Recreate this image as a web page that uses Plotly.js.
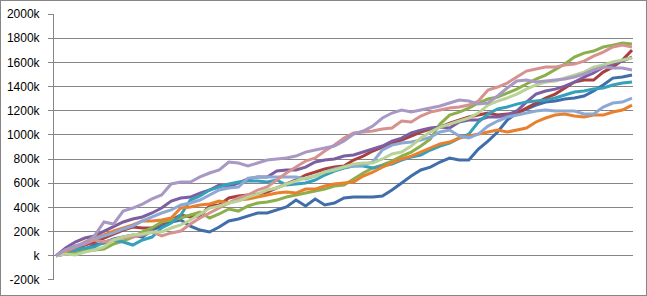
<!DOCTYPE html>
<html>
<head>
<meta charset="utf-8">
<script src="https://cdn.plot.ly/plotly-3.0.1.min.js"></script>
<style>
  html, body { margin: 0; padding: 0; background: #fff; }
  #chart { width: 645px; height: 294px; border: 1px solid #868686; }
</style>
</head>
<body>
<div id="chart"></div>
<script>
// values in thousands, one value per step (61 steps)
const steps = Array.from({length: 61}, (_, i) => i);

const series1 = [0,15,31,56,89,106,139,155,172,155,213,246,280,296,246,213,197,238,288,304,329,354,354,379,404,461,412,470,420,437,478,486,486,486,495,544,602,660,710,734,776,809,792,792,883,949,1024,1123,1181,1214,1247,1272,1280,1297,1305,1322,1363,1413,1470,1479,1495];
const series2 = [0,31,56,89,114,147,180,213,238,230,230,271,296,337,321,329,412,420,478,495,503,511,528,561,594,627,668,693,718,734,743,792,825,867,900,933,958,991,1024,1049,1065,1098,1123,1148,1164,1181,1164,1173,1181,1222,1264,1305,1338,1388,1437,1454,1454,1520,1561,1619,1702];
const series3 = [0,15,23,40,48,56,98,122,155,197,230,280,296,313,337,362,313,346,387,370,412,437,445,461,486,503,519,536,552,577,586,635,685,726,751,784,825,858,908,966,1090,1164,1189,1222,1264,1297,1313,1346,1379,1421,1462,1495,1537,1586,1644,1677,1694,1727,1743,1760,1752];
const series4 = [0,65,114,147,164,205,246,280,304,321,354,395,453,478,486,519,544,586,569,602,635,652,652,701,710,710,734,776,792,801,825,834,858,883,908,949,974,1016,1040,1057,1065,1057,1107,1123,1123,1148,1148,1164,1198,1272,1338,1363,1379,1404,1437,1479,1512,1561,1586,1611,1644];
const series5 = [0,31,48,65,73,114,131,114,89,131,155,230,271,337,461,495,544,569,594,610,619,619,610,627,586,594,602,627,668,701,726,743,743,726,743,759,792,817,834,875,908,933,974,1007,1107,1173,1214,1231,1255,1272,1280,1288,1305,1330,1355,1363,1379,1388,1413,1429,1437];
const series6 = [0,31,73,114,147,172,205,230,255,288,288,296,313,395,404,420,428,453,437,461,470,486,503,519,528,519,552,552,577,594,602,610,660,693,734,767,801,825,858,891,925,941,974,991,1007,1024,1040,1024,1040,1057,1107,1140,1164,1173,1156,1148,1164,1164,1189,1206,1247];
const series7 = [0,48,81,106,139,164,189,222,246,288,321,354,379,420,437,461,503,544,561,569,643,652,652,652,652,652,635,660,693,718,734,743,751,776,875,916,933,941,958,982,1024,1040,991,974,1007,1073,1115,1148,1164,1181,1198,1206,1198,1198,1198,1173,1173,1231,1264,1272,1305];
const series8 = [0,48,73,98,131,114,131,147,155,172,197,164,189,205,263,313,354,395,437,478,503,544,569,627,685,734,784,809,867,916,974,1016,1024,1032,1049,1057,1115,1107,1156,1189,1206,1222,1231,1247,1280,1371,1396,1429,1479,1528,1545,1561,1561,1578,1586,1611,1652,1685,1727,1743,1727];
const series9 = [0,15,7,31,48,73,131,155,172,180,197,197,230,255,296,346,395,412,437,453,486,511,544,561,594,619,643,660,693,710,734,759,767,767,801,842,858,908,974,1024,1065,1090,1115,1140,1181,1247,1280,1305,1338,1379,1413,1437,1446,1470,1495,1520,1561,1578,1603,1619,1636];
const series10 = [0,48,81,98,164,280,263,370,395,428,470,503,594,610,610,652,685,710,776,767,743,767,792,801,809,825,858,875,891,908,949,1007,1032,1073,1140,1181,1206,1189,1206,1222,1239,1264,1288,1280,1255,1264,1322,1388,1446,1454,1437,1446,1454,1462,1479,1504,1537,1561,1553,1553,1537];

const tickVals = [-200,0,200,400,600,800,1000,1200,1400,1600,1800,2000];
const tickText = ['-200k','k','200k','400k','600k','800k','1000k','1200k','1400k','1600k','1800k','2000k'];

const allSeries = [series1,series2,series3,series4,series5,series6,series7,series8,series9,series10];
const colors = ['#406EAA','#AA403E','#8CAF4B','#7D5EA0','#34A0BA','#E8802E','#8CA8D4','#D69290','#B9D296','#A898C4'];

const traces = allSeries.map((ys, k) => ({
  x: steps,
  y: ys,
  type: 'scatter',
  mode: 'lines',
  name: 'Series' + (k + 1),
  line: {color: colors[k], width: 3},
  hoverinfo: 'skip'
}));

const layout = {
  width: 645,
  height: 294,
  margin: {l: 53, r: 13, t: 13, b: 15, pad: 0},
  paper_bgcolor: '#ffffff',
  plot_bgcolor: '#ffffff',
  showlegend: false,
  font: {family: 'Liberation Sans, Arial, sans-serif', size: 12, color: '#000000'},
  xaxis: {
    range: [-2/9.6, 577/9.6],
    showgrid: false,
    zeroline: false,
    showline: false,
    showticklabels: false,
    ticks: ''
  },
  yaxis: {
    range: [-200.3, 2000.3],
    tickvals: tickVals,
    ticktext: tickText,
    showgrid: true,
    gridcolor: '#868686',
    gridwidth: 1,
    zeroline: false,
    showline: true,
    linecolor: '#868686',
    linewidth: 1,
    ticks: 'outside',
    ticklen: 5,
    tickcolor: '#868686',
    ticklabelstandoff: 6,
    tickfont: {family: 'Liberation Sans, Arial, sans-serif', size: 12, color: '#000000'}
  }
};

Plotly.newPlot('chart', traces, layout, {displayModeBar: false, staticPlot: true});
</script>
</body>
</html>
